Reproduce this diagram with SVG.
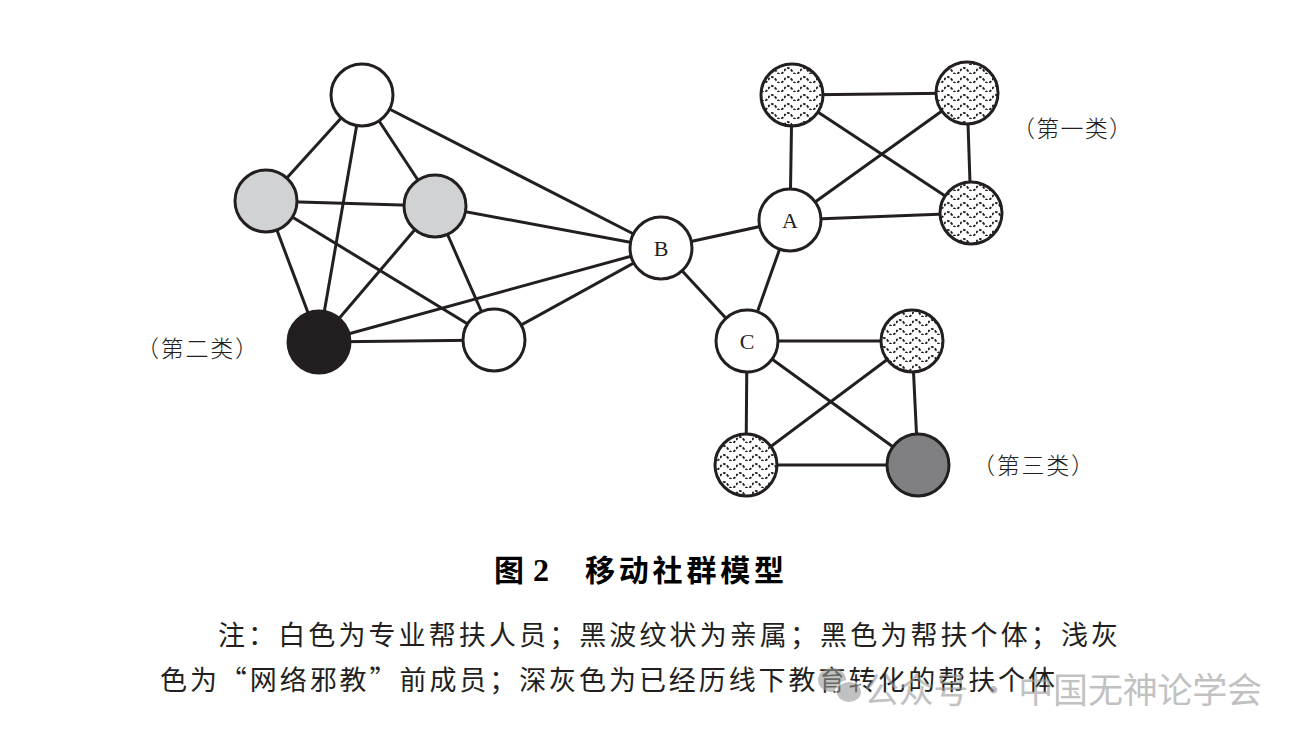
<svg xmlns="http://www.w3.org/2000/svg" width="1305" height="739" viewBox="0 0 1305 739">
<style>
.e{stroke:#231f20;stroke-width:3;fill:none}
.n{stroke:#231f20;stroke-width:3}
.w{fill:#fff}
.lg{fill:#d1d2d4}
.bk{fill:#231f20}
.dg{fill:#808083}
.wv{fill:url(#wave)}
.lbl{font-family:"Liberation Serif",serif;font-size:22px;fill:#231f20;text-anchor:middle}
.cat{font-family:"Noto Sans CJK SC",sans-serif;font-size:23px;font-weight:300;fill:#231f20}
.note{font-family:"Noto Sans CJK SC",sans-serif;font-size:27px;fill:#231f20}
</style>
<defs>
<pattern id="wave" patternUnits="userSpaceOnUse" width="16" height="9" x="0" y="2">
<rect width="16" height="9" fill="#fff"/>
<path d="M0,6 Q4,0 8,6 T16,6" stroke="#231f20" stroke-width="1.8" fill="none" stroke-dasharray="2.6 1.6"/>
</pattern>
</defs>
<rect width="1305" height="739" fill="#fff"/>
<g id="connectors">
<line class="e" x1="362" y1="95" x2="266" y2="201"/>
<line class="e" x1="362" y1="95" x2="319" y2="342"/>
<line class="e" x1="362" y1="95" x2="435" y2="206"/>
<line class="e" x1="362" y1="95" x2="661" y2="248"/>
<line class="e" x1="266" y1="201" x2="435" y2="206"/>
<line class="e" x1="266" y1="201" x2="319" y2="342"/>
<line class="e" x1="266" y1="201" x2="494" y2="340"/>
<line class="e" x1="435" y1="206" x2="319" y2="342"/>
<line class="e" x1="435" y1="206" x2="494" y2="340"/>
<line class="e" x1="435" y1="206" x2="661" y2="248"/>
<line class="e" x1="319" y1="342" x2="494" y2="340"/>
<line class="e" x1="319" y1="342" x2="661" y2="248"/>
<line class="e" x1="494" y1="340" x2="661" y2="248"/>
<line class="e" x1="661" y1="248" x2="790" y2="220"/>
<line class="e" x1="661" y1="248" x2="747" y2="341"/>
<line class="e" x1="790" y1="220" x2="747" y2="341"/>
<line class="e" x1="790" y1="220" x2="792" y2="95"/>
<line class="e" x1="790" y1="220" x2="967" y2="93"/>
<line class="e" x1="790" y1="220" x2="971" y2="213"/>
<line class="e" x1="792" y1="95" x2="967" y2="93"/>
<line class="e" x1="792" y1="95" x2="971" y2="213"/>
<line class="e" x1="967" y1="93" x2="971" y2="213"/>
<line class="e" x1="747" y1="341" x2="912" y2="341"/>
<line class="e" x1="747" y1="341" x2="746" y2="465"/>
<line class="e" x1="747" y1="341" x2="918" y2="465"/>
<line class="e" x1="912" y1="341" x2="746" y2="465"/>
<line class="e" x1="912" y1="341" x2="918" y2="465"/>
<line class="e" x1="746" y1="465" x2="918" y2="465"/>
</g>
<g id="node-w1"><circle class="n w" cx="362" cy="95" r="31"/></g>
<g id="node-g1"><circle class="n lg" cx="266" cy="201" r="31"/></g>
<g id="node-g2"><circle class="n lg" cx="435" cy="206" r="31"/></g>
<g id="node-k"><circle class="n bk" cx="319" cy="342" r="31"/></g>
<g id="node-w2"><circle class="n w" cx="494" cy="340" r="31"/></g>
<g id="node-b"><circle class="n w" cx="661" cy="248" r="31"/><text class="lbl" x="661" y="256">B</text></g>
<g id="node-a"><circle class="n w" cx="790" cy="220" r="31"/><text class="lbl" x="790" y="228">A</text></g>
<g id="node-c"><circle class="n w" cx="747" cy="341" r="31"/><text class="lbl" x="747" y="349">C</text></g>
<g id="node-p1"><circle class="n wv" cx="792" cy="95" r="31"/></g>
<g id="node-p2"><circle class="n wv" cx="967" cy="93" r="31"/></g>
<g id="node-p3"><circle class="n wv" cx="971" cy="213" r="31"/></g>
<g id="node-p4"><circle class="n wv" cx="912" cy="341" r="31"/></g>
<g id="node-p5"><circle class="n wv" cx="746" cy="465" r="31"/></g>
<g id="node-d"><circle class="n dg" cx="918" cy="465" r="31"/></g>
<g id="labels">
<text class="cat" x="1012" y="137" textLength="120" lengthAdjust="spacing">（第一类）</text>
<text class="cat" x="136" y="357" textLength="122" lengthAdjust="spacing">（第二类）</text>
<text class="cat" x="972" y="474" textLength="122" lengthAdjust="spacing">（第三类）</text>
</g>
<g id="caption">
<text x="494" y="581" font-family="Noto Sans CJK SC,sans-serif" font-size="30" font-weight="bold" fill="#000">图</text>
<text x="533" y="581" font-family="Liberation Serif,serif" font-size="32" font-weight="bold" fill="#000">2</text>
<text x="585" y="581" font-family="Noto Sans CJK SC,sans-serif" font-size="30" font-weight="bold" fill="#000" textLength="199" lengthAdjust="spacing">移动社群模型</text>
<text class="note" x="218" y="645" textLength="900" lengthAdjust="spacing">注：白色为专业帮扶人员；黑波纹状为亲属；黑色为帮扶个体；浅灰</text>
<text class="note" x="160" y="690" textLength="895" lengthAdjust="spacing">色为“网络邪教”前成员；深灰色为已经历线下教育转化的帮扶个体</text>
</g>
<g id="watermark" opacity="0.6">
<ellipse cx="832" cy="680" rx="14" ry="12" fill="#999"/>
<ellipse cx="849" cy="692" rx="13" ry="11" fill="#999" stroke="#fff" stroke-width="2"/>
<text x="864" y="703" font-family="Noto Sans CJK SC,sans-serif" font-size="35" fill="#999" textLength="398" lengthAdjust="spacing">公众号 · 中国无神论学会</text>
</g>
</svg>
